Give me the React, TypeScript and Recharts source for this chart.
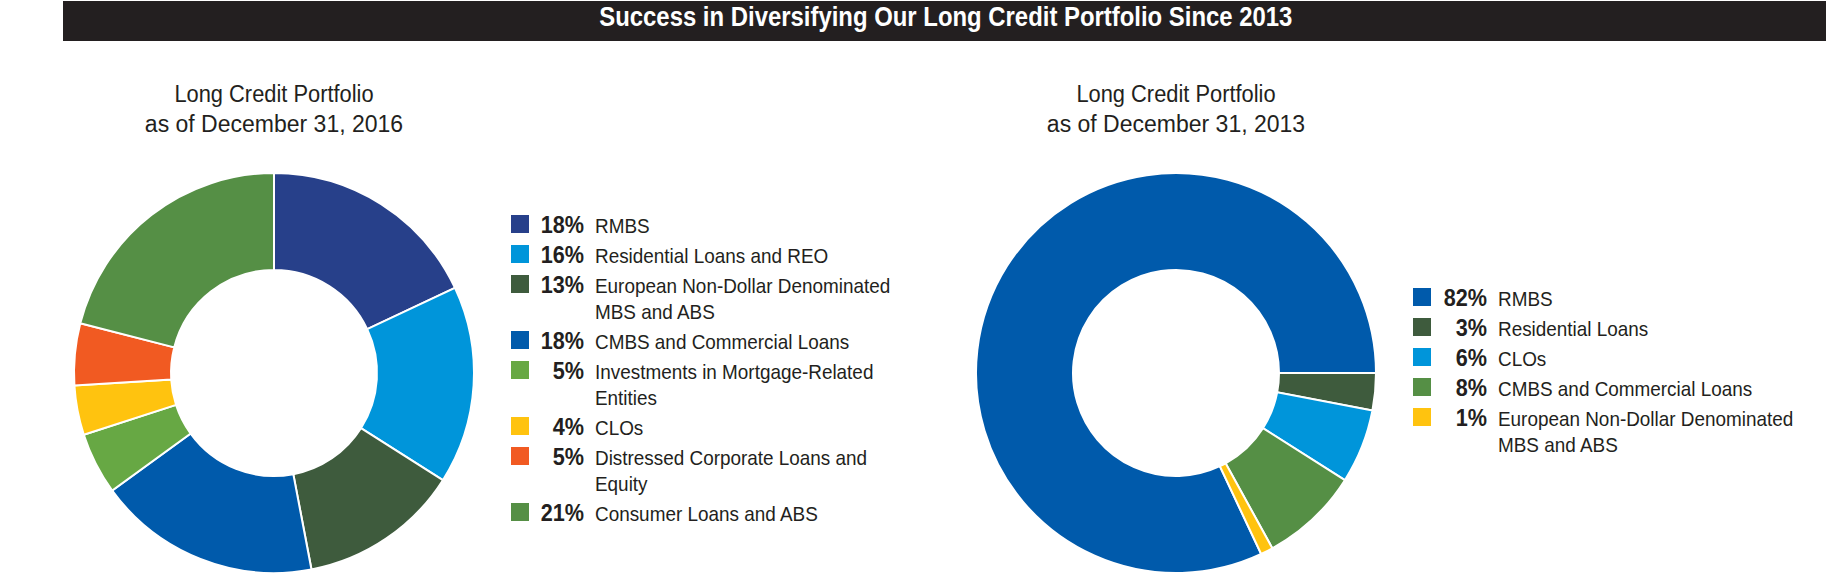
import type { CSSProperties, ReactNode } from 'react';
import { Cell, Pie, PieChart } from 'recharts';

const chartTitle = 'Success in Diversifying Our Long Credit Portfolio Since 2013';

const subtitle2016 = ['Long Credit Portfolio', 'as of December 31, 2016'];
const labels2016 = [
  'RMBS',
  'Residential Loans and REO',
  'European Non-Dollar Denominated\nMBS and ABS',
  'CMBS and Commercial Loans',
  'Investments in Mortgage-Related\nEntities',
  'CLOs',
  'Distressed Corporate Loans and\nEquity',
  'Consumer Loans and ABS',
];
const values2016 = [18, 16, 13, 18, 5, 4, 5, 21];
const colors2016 = ['#27408a', '#0095da', '#3e5b3d', '#005aab', '#67a844', '#ffc30f', '#f15a22', '#558f45'];

const subtitle2013 = ['Long Credit Portfolio', 'as of December 31, 2013'];
const labels2013 = [
  'RMBS',
  'Residential Loans',
  'CLOs',
  'CMBS and Commercial Loans',
  'European Non-Dollar Denominated\nMBS and ABS',
];
const values2013 = [82, 3, 6, 8, 1];
const colors2013 = ['#005aab', '#3e5b3d', '#0095da', '#558f45', '#ffc30f'];

// no condensed face installed, so squeeze Liberation Sans horizontally
const FONT = '"Liberation Sans", Arimo, Arial, sans-serif';
const INK = '#231f20';

function toRows(labels: string[], values: number[], colors: string[]) {
  return labels.map((label, i) => ({ name: label, value: values[i], fill: colors[i] }));
}

function Squeeze({ k, origin, children, style }: { k: number; origin: string; children: ReactNode; style?: CSSProperties }) {
  return (
    <div style={{ transform: `scaleX(${k})`, transformOrigin: origin, ...style }}>{children}</div>
  );
}

function Subtitle({ lines, cx }: { lines: string[]; cx: number }) {
  return (
    <div
      style={{
        position: 'absolute',
        left: cx - 200,
        top: 80,
        width: 400,
        textAlign: 'center',
        fontSize: 23,
        lineHeight: '29.5px',
        color: INK,
      }}
    >
      {lines.map((l, i) => (
        <Squeeze key={l} k={i === 0 ? 0.95 : 1.0} origin="center">
          {l}
        </Squeeze>
      ))}
    </div>
  );
}

function Legend({
  labels,
  values,
  colors,
  left,
  top,
  pctWidth,
}: {
  labels: string[];
  values: number[];
  colors: string[];
  left: number;
  top: number;
  pctWidth: number;
}) {
  return (
    <div style={{ position: 'absolute', left, top, color: INK, whiteSpace: 'pre' }}>
      {labels.map((label, i) => (
        <div key={label} style={{ display: 'flex', alignItems: 'baseline', marginBottom: 4 }}>
          <div style={{ width: 18, height: 18, background: colors[i], flex: 'none' }} />
          <div
            style={{
              width: pctWidth,
              textAlign: 'right',
              fontWeight: 'bold',
              fontSize: 23,
              lineHeight: '24px',
              flex: 'none',
            }}
          >
            <Squeeze k={0.94} origin="right">
              {values[i]}%
            </Squeeze>
          </div>
          <div style={{ marginLeft: 11, fontSize: 21, lineHeight: '26px' }}>
            <Squeeze k={0.9} origin="left">
              {label}
            </Squeeze>
          </div>
        </div>
      ))}
    </div>
  );
}

export default function App() {
  const data2016 = toRows(labels2016, values2016, colors2016);
  const data2013 = toRows(labels2013, values2013, colors2013);
  const total2013 = values2013.reduce((a, b) => a + b, 0);
  // 2013 ring: RMBS ends at 3 o'clock, rest runs clockwise from there
  const start2013 = (values2013[0] / total2013) * 360;

  return (
    <div
      style={{
        position: 'absolute',
        left: 0,
        top: 0,
        width: 1826,
        height: 576,
        background: '#fff',
        fontFamily: FONT,
        overflow: 'hidden',
      }}
    >
      <div
        style={{
          position: 'absolute',
          left: 63,
          top: 1,
          width: 1763,
          height: 40,
          background: INK,
          color: '#fff',
          textAlign: 'center',
          fontWeight: 'bold',
          fontSize: 27,
          lineHeight: '33px',
          whiteSpace: 'nowrap',
        }}
      >
        <Squeeze k={0.885} origin="center" style={{ paddingLeft: 3 }}>
          {chartTitle}
        </Squeeze>
      </div>

      <div style={{ position: 'absolute', left: 0, top: 0 }}>
        <PieChart width={1826} height={576} margin={{ top: 0, right: 0, bottom: 0, left: 0 }}>
          <Pie
            data={data2016}
            dataKey="value"
            cx={274}
            cy={373}
            innerRadius={103}
            outerRadius={200}
            startAngle={90}
            endAngle={-270}
            stroke="#fff"
            strokeWidth={2}
            isAnimationActive={false}
          >
            {data2016.map((d) => (
              <Cell key={d.name} fill={d.fill} />
            ))}
          </Pie>
          <Pie
            data={data2013}
            dataKey="value"
            cx={1176}
            cy={373}
            innerRadius={103}
            outerRadius={200}
            startAngle={start2013}
            endAngle={start2013 - 360}
            stroke="#fff"
            strokeWidth={2}
            isAnimationActive={false}
          >
            {data2013.map((d) => (
              <Cell key={d.name} fill={d.fill} />
            ))}
          </Pie>
        </PieChart>
      </div>

      <Subtitle lines={subtitle2016} cx={274} />
      <Subtitle lines={subtitle2013} cx={1176} />

      <Legend labels={labels2016} values={values2016} colors={colors2016} left={511} top={213} pctWidth={55} />
      <Legend labels={labels2013} values={values2013} colors={colors2013} left={1413} top={286} pctWidth={56} />
    </div>
  );
}
